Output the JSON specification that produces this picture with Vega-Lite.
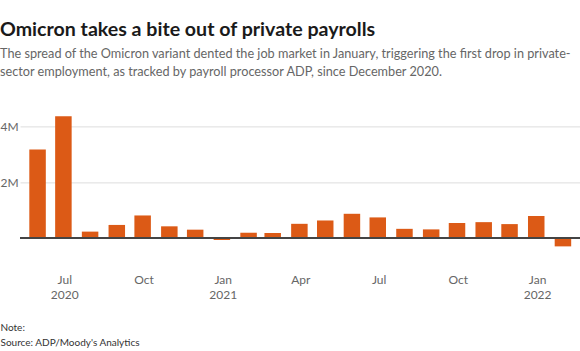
{
  "$schema": "https://vega.github.io/schema/vega-lite/v6.json",
  "width": 560,
  "height": 153.2,
  "autosize": "none",
  "padding": {"left": 20, "top": 112.4, "right": 0, "bottom": 85.4},
  "background": "white",
  "config": {"view": {"stroke": null}},
  "title": {
    "text": "Omicron takes a bite out of private payrolls",
    "subtitle": ["The spread of the Omicron variant dented the job market in January, triggering the first drop in private-", "sector employment, as tracked by payroll processor ADP, since December 2020."],
    "anchor": "start",
    "frame": "group",
    "dx": -20,
    "offset": 33,
    "font": "Lato",
    "fontSize": 19.6,
    "fontWeight": "bold",
    "color": "#1a1a1a",
    "subtitleFont": "Lato",
    "subtitleFontSize": 12.7,
    "subtitleColor": "#666666",
    "subtitlePadding": 7,
    "subtitleLineHeight": 18
  },
  "data": {
    "values": [
      {"date": "2020-05-31", "change": 3170000},
      {"date": "2020-06-30", "change": 4360000},
      {"date": "2020-07-31", "change": 220000},
      {"date": "2020-08-31", "change": 460000},
      {"date": "2020-09-30", "change": 800000},
      {"date": "2020-10-31", "change": 410000},
      {"date": "2020-11-30", "change": 290000},
      {"date": "2020-12-31", "change": -80000},
      {"date": "2021-01-31", "change": 180000},
      {"date": "2021-02-28", "change": 170000},
      {"date": "2021-03-31", "change": 500000},
      {"date": "2021-04-30", "change": 620000},
      {"date": "2021-05-31", "change": 860000},
      {"date": "2021-06-30", "change": 730000},
      {"date": "2021-07-31", "change": 320000},
      {"date": "2021-08-31", "change": 300000},
      {"date": "2021-09-30", "change": 530000},
      {"date": "2021-10-31", "change": 560000},
      {"date": "2021-11-30", "change": 490000},
      {"date": "2021-12-31", "change": 780000},
      {"date": "2022-01-31", "change": -310000}
    ]
  },
  "layer": [
    {
      "mark": {"type": "bar", "size": 16.5, "color": "#dc5a16"},
      "encoding": {
        "x": {
          "field": "date",
          "type": "temporal",
          "scale": {"domain": [{"year": 2020, "month": 5, "date": 16, "hours": 10}, {"year": 2022, "month": 2, "date": 14}]},
          "axis": {
            "values": [
              {"year": 2020, "month": 7, "date": 1},
              {"year": 2020, "month": 10, "date": 1},
              {"year": 2021, "month": 1, "date": 1},
              {"year": 2021, "month": 4, "date": 1},
              {"year": 2021, "month": 7, "date": 1},
              {"year": 2021, "month": 10, "date": 1},
              {"year": 2022, "month": 1, "date": 1}
            ],
            "labelExpr": "(month(datum.value) == 0 || (year(datum.value) == 2020 && month(datum.value) == 6)) ? [timeFormat(datum.value, '%b'), timeFormat(datum.value, '%Y')] : timeFormat(datum.value, '%b')",
            "labelFont": "Lato",
            "labelFontSize": 12,
            "labelColor": "#666666",
            "labelPadding": 9,
            "labelBaseline": "top",
            "labelLineHeight": 15,
            "ticks": false,
            "domain": false,
            "grid": false,
            "title": ["Note:", "Source: ADP/Moody's Analytics"],
            "titleFont": "Lato",
            "titleFontSize": 10,
            "titleFontWeight": "normal",
            "titleColor": "#333333",
            "titleAlign": "left",
            "titleAnchor": "start",
            "titleBaseline": "top",
            "titleLineHeight": 15,
            "titleX": -20,
            "titleY": 57
          }
        },
        "y": {
          "field": "change",
          "type": "quantitative",
          "scale": {"domain": [-1000000, 4500000], "nice": false, "zero": false},
          "axis": {
            "values": [0, 2000000, 4000000],
            "labelExpr": "datum.value == 0 ? '' : (datum.value / 1000000) + 'M'",
            "labelFont": "Lato",
            "labelFontSize": 12,
            "labelColor": "#666666",
            "labelAlign": "left",
            "labelBaseline": "middle",
            "labelPadding": 20,
            "ticks": false,
            "domain": false,
            "grid": true,
            "gridColor": "#dddddd",
            "title": null
          }
        }
      }
    },
    {
      "mark": {"type": "rule", "color": "#444444", "strokeWidth": 1},
      "encoding": {"y": {"datum": 0}}
    }
  ]
}
